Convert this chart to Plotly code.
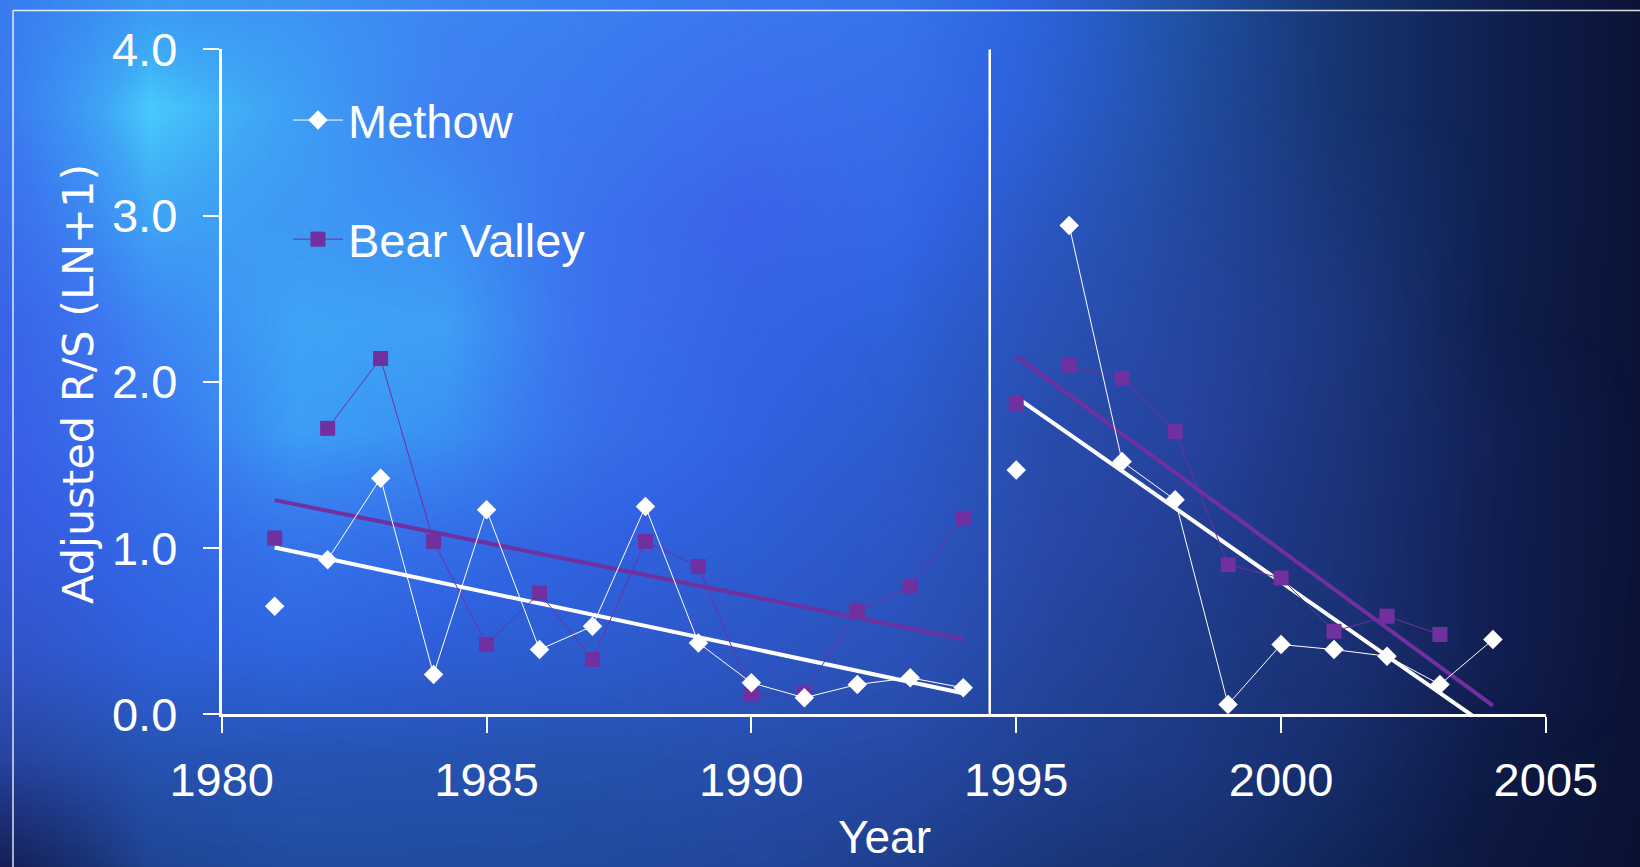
import plotly.graph_objects as go
import numpy as np

# ---------------- data ----------------
years = list(range(1981, 2005))
methow = [0.65, 0.93, 1.42, 0.24, 1.23, 0.39, 0.53, 1.25, 0.43, 0.19, 0.10, 0.18,
          0.22, 0.16, 1.47, 2.94, 1.52, 1.29, 0.06, 0.42, 0.39, 0.35, 0.18, 0.45]
bear_valley = [1.06, 1.72, 2.14, 1.04, 0.42, 0.73, 0.33, 1.04, 0.89, 0.12, 0.13, 0.62,
               0.77, 1.18, 1.87, 2.10, 2.02, 1.70, 0.90, 0.82, 0.50, 0.59, 0.48, None]
periods = [(1981, 1994), (1995, 2004)]
line_breaks_before = [1982, 1995, 1996]
divider_year = 1994.5
x_ticks = [1980, 1985, 1990, 1995, 2000, 2005]
y_ticks = [0.0, 1.0, 2.0, 3.0, 4.0]

# background texture (hand-estimated from the slide backdrop)
bg_cols_px = [0, 149, 298, 447, 596, 745, 895, 1044, 1193, 1342, 1491, 1640]
bg_rows_px = [0, 108, 217, 325, 434, 542, 650, 759, 867]
bg_level = [
    [.74, .82, .82, .80, .76, .74, .70, .58, .44, .30, .18, .07],
    [.74, .95, .86, .80, .74, .72, .68, .56, .42, .30, .18, .07],
    [.70, .88, .84, .82, .72, .66, .64, .50, .40, .30, .18, .07],
    [.64, .80, .86, .86, .72, .62, .58, .46, .38, .30, .17, .07],
    [.62, .72, .84, .80, .68, .60, .54, .42, .36, .28, .16, .07],
    [.56, .64, .70, .66, .60, .56, .50, .40, .34, .27, .15, .07],
    [.48, .58, .60, .56, .54, .50, .46, .38, .33, .26, .15, .06],
    [.36, .46, .47, .46, .45, .43, .40, .36, .31, .24, .14, .06],
    [.12, .38, .42, .42, .41, .39, .35, .31, .27, .21, .11, .05],
]
bg_scale = [
    [0.00, "rgb(8,12,40)"],
    [0.15, "rgb(14,28,72)"],
    [0.30, "rgb(22,52,112)"],
    [0.45, "rgb(32,82,165)"],
    [0.60, "rgb(42,104,222)"],
    [0.75, "rgb(55,132,240)"],
    [0.88, "rgb(62,170,246)"],
    [1.00, "rgb(80,225,255)"],
]
# purple-blue blotches laid over the backdrop
tint_level = [
    [.20, .00, .10, .30, .20, .30, .20, .10, .00, .00, .00, .00],
    [.30, .00, .10, .45, .30, .55, .35, .20, .10, .00, .00, .00],
    [.45, .10, .10, .20, .45, .70, .35, .30, .20, .10, .00, .00],
    [.60, .30, .00, .10, .50, .45, .25, .35, .30, .20, .00, .00],
    [.70, .30, .00, .05, .35, .35, .30, .35, .40, .20, .10, .00],
    [.70, .30, .20, .25, .35, .30, .40, .40, .30, .20, .10, .00],
    [.60, .30, .20, .30, .30, .40, .40, .30, .20, .20, .10, .00],
    [.40, .20, .20, .20, .20, .30, .30, .20, .20, .10, .00, .00],
    [.20, .10, .10, .10, .10, .20, .20, .10, .10, .00, .00, .00],
]
tint_scale = [[0.0, "rgba(78,76,240,0)"], [1.0, "rgba(78,76,240,0.6)"]]

W, H = 1640, 867
PURPLE = "#7030a0"
WHITE = "#ffffff"
SANS = "Liberation Sans, Arial, sans-serif"


def segmented(xs, ys):
    ox, oy = [], []
    for x, y in zip(xs, ys):
        if x in line_breaks_before and ox:
            ox.append(None)
            oy.append(None)
        ox.append(x)
        oy.append(y)
    return ox, oy


def trend(xs, ys, a, b):
    pts = [(x, y) for x, y in zip(xs, ys) if a <= x <= b and y is not None]
    px = np.array([p[0] for p in pts], dtype=float)
    py = np.array([p[1] for p in pts], dtype=float)
    c = np.polyfit(px, py, 1)
    return [a, b], list(np.polyval(c, [a, b]))


fig = go.Figure()

# backdrop on the first (full page) axes
fig.add_trace(go.Heatmap(x=bg_cols_px, y=bg_rows_px, z=bg_level, zsmooth="best",
                         colorscale=bg_scale, zmin=0, zmax=1, showscale=False,
                         hoverinfo="skip", xaxis="x", yaxis="y"))
fig.add_trace(go.Heatmap(x=bg_cols_px, y=bg_rows_px, z=tint_level, zsmooth="best",
                         colorscale=tint_scale, zmin=0, zmax=1, showscale=False,
                         hoverinfo="skip", xaxis="x", yaxis="y"))

# trend lines
for vals, col in [(methow, WHITE), (bear_valley, PURPLE)]:
    for a, b in periods:
        tx, ty = trend(years, vals, a, b)
        fig.add_trace(go.Scatter(x=tx, y=ty, mode="lines", line=dict(color=col, width=4),
                                 showlegend=False, hoverinfo="skip",
                                 xaxis="x2", yaxis="y2"))

mx, my = segmented(years, methow)
bx, by = segmented(years, bear_valley)
fig.add_trace(go.Scatter(x=bx, y=by, mode="lines+markers", name="Bear Valley",
                         line=dict(color=PURPLE, width=1),
                         marker=dict(symbol="square", size=15, color=PURPLE),
                         legendgroup="b", legendrank=2,
                         xaxis="x2", yaxis="y2"))
fig.add_trace(go.Scatter(x=mx, y=my, mode="lines+markers", name="Methow",
                         line=dict(color=WHITE, width=1),
                         marker=dict(symbol="diamond", size=15, color=WHITE),
                         legendgroup="m", legendrank=1,
                         xaxis="x2", yaxis="y2"))

# plot area in pixels
left_px, right_px, top_px, bottom_px = 221.7, 1545.9, 49.2, 714.4
xd = [left_px / W, right_px / W]
yd = [1 - bottom_px / H, 1 - top_px / H]

axis_common = dict(showgrid=False, zeroline=False, showline=True, linecolor=WHITE,
                   linewidth=3, ticks="outside", tickcolor=WHITE, tickwidth=2,
                   ticklen=16, tickfont=dict(family=SANS, size=47, color=WHITE))

fig.update_layout(
    width=W, height=H,
    margin=dict(l=0, r=0, t=0, b=0, autoexpand=False),
    paper_bgcolor="rgb(30,60,150)",
    plot_bgcolor="rgba(0,0,0,0)",
    xaxis=dict(domain=[0, 1], range=[0, W], visible=False, fixedrange=True),
    yaxis=dict(domain=[0, 1], range=[H, 0], visible=False, fixedrange=True),
    xaxis2=dict(domain=xd, range=[1980, 2005], anchor="y2", tickvals=x_ticks,
                ticklabelstandoff=6, **axis_common),
    yaxis2=dict(domain=yd, range=[0, 4], anchor="x2", tickvals=y_ticks,
                tickformat=".1f", ticklabelstandoff=16, **axis_common),
    showlegend=True,
    legend=dict(x=288 / W, y=1 - 83 / H, xanchor="left", yanchor="top",
                bgcolor="rgba(0,0,0,0)", font=dict(family=SANS, size=47, color=WHITE),
                tracegroupgap=55, itemwidth=50, traceorder="grouped"),
    shapes=[
        dict(type="line", xref="x2", yref="y2", x0=divider_year, x1=divider_year,
             y0=0, y1=4, line=dict(color=WHITE, width=2.5)),
        dict(type="line", xref="paper", yref="paper", x0=13 / W, x1=1, y0=1 - 10.5 / H,
             y1=1 - 10.5 / H, line=dict(color="rgba(255,255,255,0.85)", width=1.5)),
        dict(type="line", xref="paper", yref="paper", x0=13 / W, x1=13 / W, y0=0,
             y1=1 - 10.5 / H, line=dict(color="rgba(255,255,255,0.85)", width=1.5)),
    ],
    annotations=[
        dict(text="Adjusted R/S (LN+1)", xref="paper", yref="paper", x=78 / W,
             y=1 - 384 / H, textangle=-90, showarrow=False, xanchor="center",
             yanchor="middle", font=dict(family="DejaVu Sans", size=43, color=WHITE)),
        dict(text="Year", xref="paper", yref="paper", x=884 / W, y=1 - 837 / H,
             showarrow=False, xanchor="center", yanchor="middle",
             font=dict(family=SANS, size=46, color=WHITE)),
    ],
)

fig.write_html("out.html", config={"displayModeBar": False},
               post_script="document.body.style.margin='0';document.body.style.overflow='hidden';")
